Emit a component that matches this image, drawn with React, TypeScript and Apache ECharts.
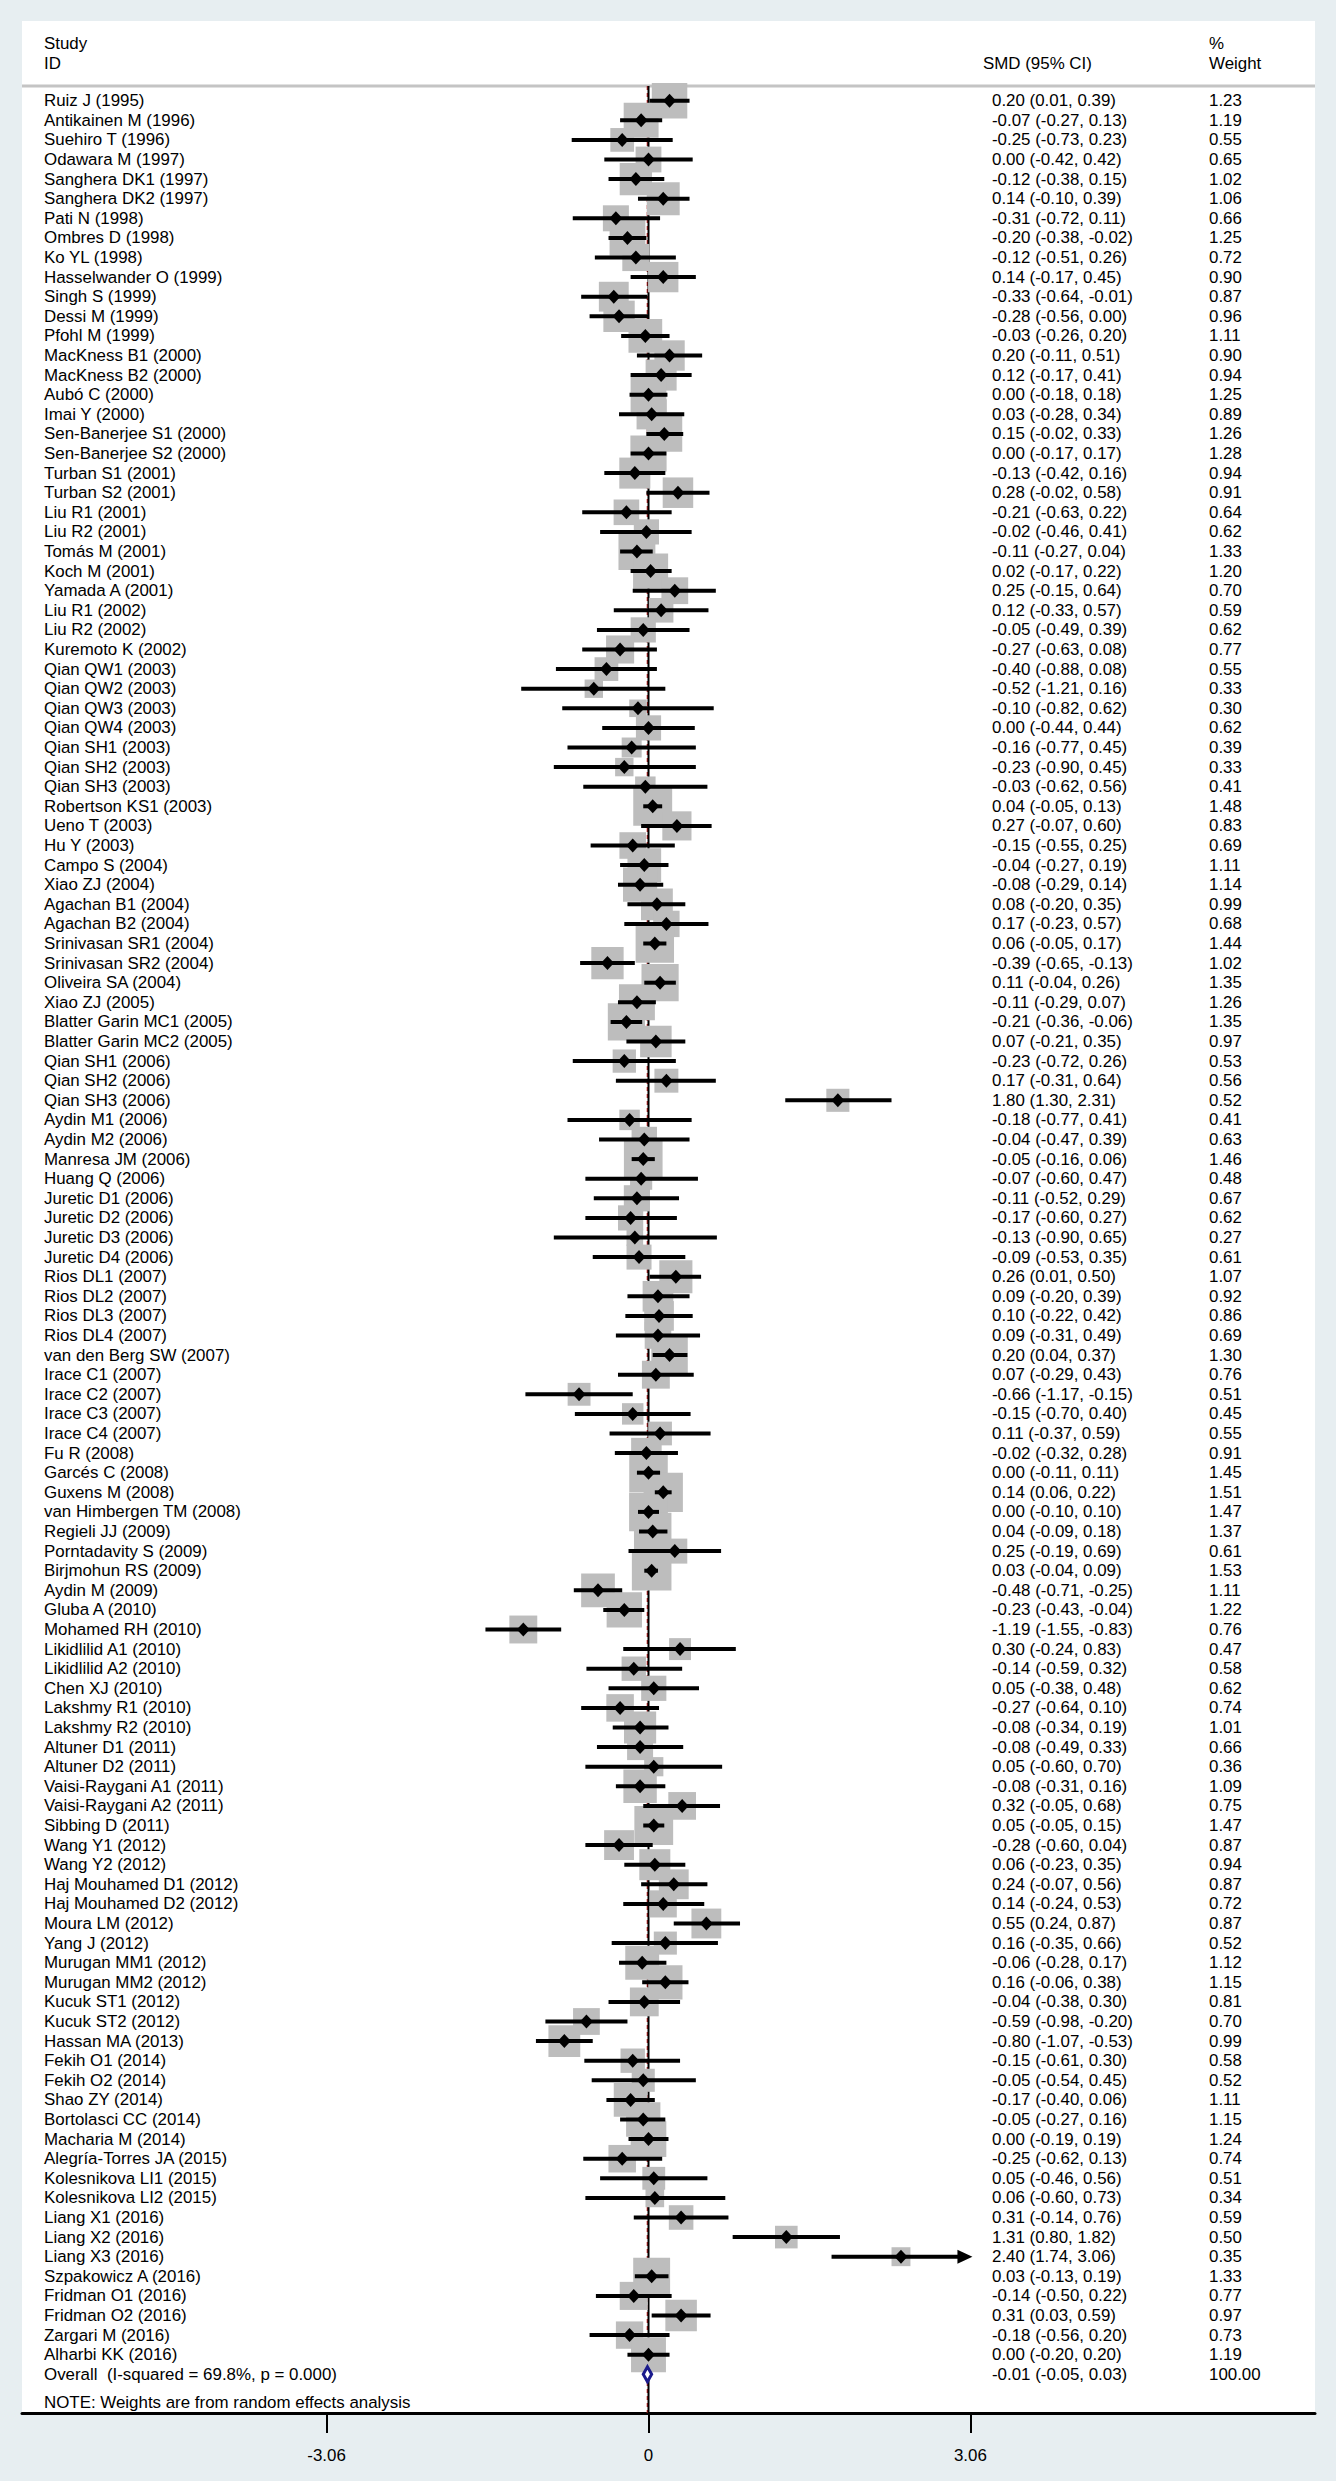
import React, { useEffect, useRef } from "react";
import * as echarts from "echarts";

const FONT = "'Liberation Sans', Arial, Helvetica, sans-serif";
const FS = 16.9;

const studies = [
  "Ruiz J (1995)", "Antikainen M (1996)", "Suehiro T (1996)", "Odawara M (1997)", "Sanghera DK1 (1997)",
  "Sanghera DK2 (1997)", "Pati N (1998)", "Ombres D (1998)", "Ko YL (1998)", "Hasselwander O (1999)",
  "Singh S (1999)", "Dessi M (1999)", "Pfohl M (1999)", "MacKness B1 (2000)", "MacKness B2 (2000)",
  "Aubó C (2000)", "Imai Y (2000)", "Sen-Banerjee S1 (2000)", "Sen-Banerjee S2 (2000)", "Turban S1 (2001)",
  "Turban S2 (2001)", "Liu R1 (2001)", "Liu R2 (2001)", "Tomás M (2001)", "Koch M (2001)",
  "Yamada A (2001)", "Liu R1 (2002)", "Liu R2 (2002)", "Kuremoto K (2002)", "Qian QW1 (2003)",
  "Qian QW2 (2003)", "Qian QW3 (2003)", "Qian QW4 (2003)", "Qian SH1 (2003)", "Qian SH2 (2003)",
  "Qian SH3 (2003)", "Robertson KS1 (2003)", "Ueno T (2003)", "Hu Y (2003)", "Campo S (2004)",
  "Xiao ZJ (2004)", "Agachan B1 (2004)", "Agachan B2 (2004)", "Srinivasan SR1 (2004)", "Srinivasan SR2 (2004)",
  "Oliveira SA (2004)", "Xiao ZJ (2005)", "Blatter Garin MC1 (2005)", "Blatter Garin MC2 (2005)", "Qian SH1 (2006)",
  "Qian SH2 (2006)", "Qian SH3 (2006)", "Aydin M1 (2006)", "Aydin M2 (2006)", "Manresa JM (2006)",
  "Huang Q (2006)", "Juretic D1 (2006)", "Juretic D2 (2006)", "Juretic D3 (2006)", "Juretic D4 (2006)",
  "Rios DL1 (2007)", "Rios DL2 (2007)", "Rios DL3 (2007)", "Rios DL4 (2007)", "van den Berg SW (2007)",
  "Irace C1 (2007)", "Irace C2 (2007)", "Irace C3 (2007)", "Irace C4 (2007)", "Fu R (2008)",
  "Garcés C (2008)", "Guxens M (2008)", "van Himbergen TM (2008)", "Regieli JJ (2009)", "Porntadavity S (2009)",
  "Birjmohun RS (2009)", "Aydin M (2009)", "Gluba A (2010)", "Mohamed RH (2010)", "Likidlilid A1 (2010)",
  "Likidlilid A2 (2010)", "Chen XJ (2010)", "Lakshmy R1 (2010)", "Lakshmy R2 (2010)", "Altuner D1 (2011)",
  "Altuner D2 (2011)", "Vaisi-Raygani A1 (2011)", "Vaisi-Raygani A2 (2011)", "Sibbing D (2011)", "Wang Y1 (2012)",
  "Wang Y2 (2012)", "Haj Mouhamed D1 (2012)", "Haj Mouhamed D2 (2012)", "Moura LM (2012)", "Yang J (2012)",
  "Murugan MM1 (2012)", "Murugan MM2 (2012)", "Kucuk ST1 (2012)", "Kucuk ST2 (2012)", "Hassan MA (2013)",
  "Fekih O1 (2014)", "Fekih O2 (2014)", "Shao ZY (2014)", "Bortolasci CC (2014)", "Macharia M (2014)",
  "Alegría-Torres JA (2015)", "Kolesnikova LI1 (2015)", "Kolesnikova LI2 (2015)", "Liang X1 (2016)", "Liang X2 (2016)",
  "Liang X3 (2016)", "Szpakowicz A (2016)", "Fridman O1 (2016)", "Fridman O2 (2016)", "Zargari M (2016)",
  "Alharbi KK (2016)",
];

const smd = [
  0.20, -0.07, -0.25, 0.00, -0.12, 0.14, -0.31, -0.20, -0.12, 0.14, -0.33, -0.28, -0.03, 0.20, 0.12, 0.00,
  0.03, 0.15, 0.00, -0.13, 0.28, -0.21, -0.02, -0.11, 0.02, 0.25, 0.12, -0.05, -0.27, -0.40, -0.52,
  -0.10, 0.00, -0.16, -0.23, -0.03, 0.04, 0.27, -0.15, -0.04, -0.08, 0.08, 0.17, 0.06, -0.39, 0.11, -0.11,
  -0.21, 0.07, -0.23, 0.17, 1.80, -0.18, -0.04, -0.05, -0.07, -0.11, -0.17, -0.13, -0.09, 0.26, 0.09,
  0.10, 0.09, 0.20, 0.07, -0.66, -0.15, 0.11, -0.02, 0.00, 0.14, 0.00, 0.04, 0.25, 0.03, -0.48, -0.23,
  -1.19, 0.30, -0.14, 0.05, -0.27, -0.08, -0.08, 0.05, -0.08, 0.32, 0.05, -0.28, 0.06, 0.24, 0.14,
  0.55, 0.16, -0.06, 0.16, -0.04, -0.59, -0.80, -0.15, -0.05, -0.17, -0.05, 0.00, -0.25, 0.05, 0.06, 0.31,
  1.31, 2.40, 0.03, -0.14, 0.31, -0.18, 0.00,
];

const ciLow = [
  0.01, -0.27, -0.73, -0.42, -0.38, -0.10, -0.72, -0.38, -0.51, -0.17, -0.64, -0.56, -0.26, -0.11, -0.17, -0.18,
  -0.28, -0.02, -0.17, -0.42, -0.02, -0.63, -0.46, -0.27, -0.17, -0.15, -0.33, -0.49, -0.63, -0.88, -1.21,
  -0.82, -0.44, -0.77, -0.90, -0.62, -0.05, -0.07, -0.55, -0.27, -0.29, -0.20, -0.23, -0.05, -0.65, -0.04, -0.29,
  -0.36, -0.21, -0.72, -0.31, 1.30, -0.77, -0.47, -0.16, -0.60, -0.52, -0.60, -0.90, -0.53, 0.01, -0.20,
  -0.22, -0.31, 0.04, -0.29, -1.17, -0.70, -0.37, -0.32, -0.11, 0.06, -0.10, -0.09, -0.19, -0.04, -0.71, -0.43,
  -1.55, -0.24, -0.59, -0.38, -0.64, -0.34, -0.49, -0.60, -0.31, -0.05, -0.05, -0.60, -0.23, -0.07, -0.24,
  0.24, -0.35, -0.28, -0.06, -0.38, -0.98, -1.07, -0.61, -0.54, -0.40, -0.27, -0.19, -0.62, -0.46, -0.60, -0.14,
  0.80, 1.74, -0.13, -0.50, 0.03, -0.56, -0.20,
];

const ciHigh = [
  0.39, 0.13, 0.23, 0.42, 0.15, 0.39, 0.11, -0.02, 0.26, 0.45, -0.01, 0.00, 0.20, 0.51, 0.41, 0.18,
  0.34, 0.33, 0.17, 0.16, 0.58, 0.22, 0.41, 0.04, 0.22, 0.64, 0.57, 0.39, 0.08, 0.08, 0.16,
  0.62, 0.44, 0.45, 0.45, 0.56, 0.13, 0.60, 0.25, 0.19, 0.14, 0.35, 0.57, 0.17, -0.13, 0.26, 0.07,
  -0.06, 0.35, 0.26, 0.64, 2.31, 0.41, 0.39, 0.06, 0.47, 0.29, 0.27, 0.65, 0.35, 0.50, 0.39,
  0.42, 0.49, 0.37, 0.43, -0.15, 0.40, 0.59, 0.28, 0.11, 0.22, 0.10, 0.18, 0.69, 0.09, -0.25, -0.04,
  -0.83, 0.83, 0.32, 0.48, 0.10, 0.19, 0.33, 0.70, 0.16, 0.68, 0.15, 0.04, 0.35, 0.56, 0.53,
  0.87, 0.66, 0.17, 0.38, 0.30, -0.20, -0.53, 0.30, 0.45, 0.06, 0.16, 0.19, 0.13, 0.56, 0.73, 0.76,
  1.82, 3.06, 0.19, 0.22, 0.59, 0.20, 0.20,
];

const weights = [
  1.23, 1.19, 0.55, 0.65, 1.02, 1.06, 0.66, 1.25, 0.72, 0.90, 0.87, 0.96, 1.11, 0.90, 0.94, 1.25,
  0.89, 1.26, 1.28, 0.94, 0.91, 0.64, 0.62, 1.33, 1.20, 0.70, 0.59, 0.62, 0.77, 0.55, 0.33,
  0.30, 0.62, 0.39, 0.33, 0.41, 1.48, 0.83, 0.69, 1.11, 1.14, 0.99, 0.68, 1.44, 1.02, 1.35, 1.26,
  1.35, 0.97, 0.53, 0.56, 0.52, 0.41, 0.63, 1.46, 0.48, 0.67, 0.62, 0.27, 0.61, 1.07, 0.92,
  0.86, 0.69, 1.30, 0.76, 0.51, 0.45, 0.55, 0.91, 1.45, 1.51, 1.47, 1.37, 0.61, 1.53, 1.11, 1.22,
  0.76, 0.47, 0.58, 0.62, 0.74, 1.01, 0.66, 0.36, 1.09, 0.75, 1.47, 0.87, 0.94, 0.87, 0.72,
  0.87, 0.52, 1.12, 1.15, 0.81, 0.70, 0.99, 0.58, 0.52, 1.11, 1.15, 1.24, 0.74, 0.51, 0.34, 0.59,
  0.50, 0.35, 1.33, 0.77, 0.97, 0.73, 1.19,
];

const overallLabel = "Overall  (I-squared = 69.8%, p = 0.000)";
const overallEst = -0.01;
const overallLow = -0.05;
const overallHigh = 0.03;
const overallWeight = 100.0;

const tickValues = [-3.06, 0, 3.06];
const tickLabels = ["-3.06", "0", "3.06"];
const axisLimit = 3.06;

const noteText = "NOTE: Weights are from random effects analysis";

// layout (pixels)
const GRID_L = 22, GRID_R = 1315, GRID_T = 21, GRID_B = 2413;
const ZERO_PX = 648.5, UNIT_PX = 105.2;
const ROW0_PX = 100.7, ROW_PX = 19.6;
const X_MIN = (GRID_L - ZERO_PX) / UNIT_PX;
const X_MAX = (GRID_R - ZERO_PX) / UNIT_PX;
const Y_MIN = -(ROW0_PX - GRID_T) / ROW_PX;
const Y_MAX = Y_MIN + (GRID_B - GRID_T) / ROW_PX;
const BOX_K = 32;
const NAME_X = 44, EST_X = 992, W_X = 1209;

const fmt = (v: number) => v.toFixed(2);

export default function App() {
  const ref = useRef<HTMLDivElement>(null);
  useEffect(() => {
    const chart = echarts.init(ref.current!, null, { renderer: "svg" });
    const n = studies.length;
    const rowData = studies.map((_, i) => [smd[i], i, ciLow[i], ciHigh[i], weights[i]]);
    const textRows = [
      ...studies.map((s, i) => ({ name: s, est: `${fmt(smd[i])} (${fmt(ciLow[i])}, ${fmt(ciHigh[i])})`, w: fmt(weights[i]) })),
      { name: overallLabel, est: `${fmt(overallEst)} (${fmt(overallLow)}, ${fmt(overallHigh)})`, w: fmt(overallWeight) },
    ];
    const textData = textRows.map((_, i) => [0, i]);
    const txt = (text: string, x: number, y: number) => ({
      type: "text",
      x,
      y,
      style: {
        text,
        fill: "#000",
        fontSize: FS,
        fontFamily: FONT,
        align: "left",
        verticalAlign: "middle",
        textAlign: "left",
        textVerticalAlign: "middle",
      },
    });

    const option: any = {
      animation: false,
      backgroundColor: "#e7eef1",
      textStyle: { fontFamily: FONT },
      grid: {
        left: GRID_L,
        right: 1336 - GRID_R,
        top: GRID_T,
        bottom: 2481 - GRID_B,
        show: true,
        backgroundColor: "#ffffff",
        borderWidth: 0,
      },
      xAxis: {
        type: "value",
        min: X_MIN,
        max: X_MAX,
        axisLine: { show: true, onZero: false, lineStyle: { color: "#000", width: 3 } },
        axisTick: { show: true, customValues: tickValues, length: 20, lineStyle: { color: "#000", width: 2 } },
        axisLabel: {
          customValues: tickValues,
          formatter: (v: number) => tickLabels[tickValues.findIndex((t) => Math.abs(t - v) < 1e-6)] ?? "",
          margin: 34,
          fontSize: FS,
          fontFamily: FONT,
          color: "#000",
        },
        splitLine: { show: false },
      },
      yAxis: { type: "value", inverse: true, min: Y_MIN, max: Y_MAX, show: false },
      graphic: [
        { type: "line", shape: { x1: GRID_L, y1: 86, x2: GRID_R, y2: 86 }, style: { stroke: "#c4c4c4", lineWidth: 3 }, z: 1 },
        txt("Study", NAME_X, 43),
        txt("ID", NAME_X, 63),
        txt("SMD (95% CI)", 983, 63),
        txt("%", W_X, 43),
        txt("Weight", W_X, 63),
        txt(noteText, NAME_X, 2402),
      ],
      series: [
        {
          type: "line",
          data: [[overallEst, -0.75], [overallEst, Y_MAX]],
          symbol: "none",
          silent: true,
          lineStyle: { color: "#cc2222", width: 1.5, type: [4, 3] },
          z: 1,
        },
        {
          type: "line",
          data: [[0, -0.75], [0, Y_MAX]],
          symbol: "none",
          silent: true,
          lineStyle: { color: "#000", width: 2 },
          z: 2,
        },
        {
          type: "custom",
          data: rowData,
          encode: { x: 0, y: 1 },
          z: 3,
          renderItem: (params: any, api: any) => {
            const c = api.coord([api.value(0), api.value(1)]);
            const s = BOX_K * Math.sqrt(api.value(4));
            return { type: "rect", shape: { x: c[0] - s / 2, y: c[1] - s / 2, width: s, height: s }, style: { fill: "#bdbdbd" } };
          },
        },
        {
          type: "custom",
          data: rowData,
          encode: { x: 0, y: 1 },
          z: 4,
          renderItem: (params: any, api: any) => {
            const y = api.value(1);
            const hiV = api.value(3);
            const lo = api.coord([api.value(2), y]);
            const hi = api.coord([hiV, y]);
            const children: any[] = [];
            if (hiV >= axisLimit) {
              children.push({ type: "line", shape: { x1: lo[0], y1: lo[1], x2: hi[0] - 10, y2: hi[1] }, style: { stroke: "#000", lineWidth: 4 } });
              children.push({
                type: "polygon",
                shape: { points: [[hi[0] + 2, hi[1]], [hi[0] - 13, hi[1] - 7], [hi[0] - 13, hi[1] + 7]] },
                style: { fill: "#000" },
              });
            } else {
              children.push({ type: "line", shape: { x1: lo[0], y1: lo[1], x2: hi[0], y2: hi[1] }, style: { stroke: "#000", lineWidth: 4 } });
            }
            return { type: "group", children };
          },
        },
        {
          type: "custom",
          data: rowData,
          encode: { x: 0, y: 1 },
          z: 5,
          renderItem: (params: any, api: any) => {
            const c = api.coord([api.value(0), api.value(1)]);
            return {
              type: "polygon",
              shape: { points: [[c[0] - 6.5, c[1]], [c[0], c[1] - 7], [c[0] + 6.5, c[1]], [c[0], c[1] + 7]] },
              style: { fill: "#000" },
            };
          },
        },
        {
          type: "custom",
          data: [[overallEst, n, overallLow, overallHigh]],
          encode: { x: 0, y: 1 },
          z: 5,
          renderItem: (params: any, api: any) => {
            const y = api.value(1);
            const c = api.coord([api.value(0), y]);
            const lo = api.coord([api.value(2), y]);
            const hi = api.coord([api.value(3), y]);
            return {
              type: "polygon",
              shape: { points: [[lo[0], c[1]], [c[0], c[1] - 7.5], [hi[0], c[1]], [c[0], c[1] + 7.5]] },
              style: { fill: "#ffffff", stroke: "#1a1a8c", lineWidth: 3 },
            };
          },
        },
        {
          type: "custom",
          data: textData,
          encode: { x: 0, y: 1 },
          z: 6,
          renderItem: (params: any, api: any) => {
            const i = params.dataIndex;
            const cy = api.coord([0, api.value(1)])[1];
            const r = textRows[i];
            return {
              type: "group",
              children: [txt(r.name, NAME_X, cy), txt(r.est, EST_X, cy), txt(r.w, W_X, cy)],
            };
          },
        },
      ],
    };
    chart.setOption(option);
    return () => chart.dispose();
  }, []);
  return <div ref={ref} style={{ position: "absolute", left: 0, top: 0, width: 1336, height: 2481 }} />;
}
